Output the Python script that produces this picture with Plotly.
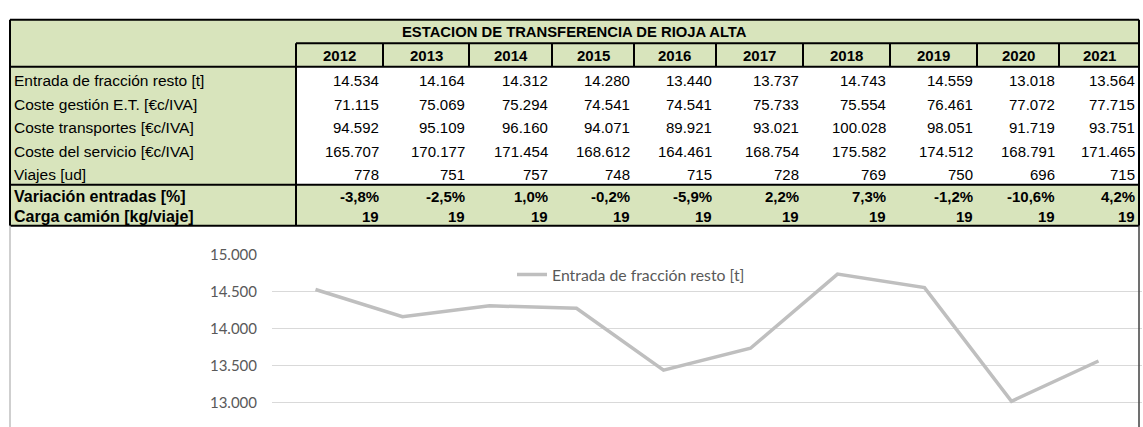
import plotly.graph_objects as go

# ---------------- data ----------------
years = ["2012", "2013", "2014", "2015", "2016", "2017", "2018", "2019", "2020", "2021"]
table_title = "ESTACION DE TRANSFERENCIA DE RIOJA ALTA"
row_labels = [
    "Entrada de fracción resto [t]",
    "Coste gestión E.T. [€c/IVA]",
    "Coste transportes [€c/IVA]",
    "Coste del servicio [€c/IVA]",
    "Viajes [ud]",
]
bold_labels = ["Variación entradas [%]", "Carga camión [kg/viaje]"]

entrada = [14534, 14164, 14312, 14280, 13440, 13737, 14743, 14559, 13018, 13564]
coste_gestion = [71115, 75069, 75294, 74541, 74541, 75733, 75554, 76461, 77072, 77715]
coste_transportes = [94592, 95109, 96160, 94071, 89921, 93021, 100028, 98051, 91719, 93751]
coste_servicio = [165707, 170177, 171454, 168612, 164461, 168754, 175582, 174512, 168791, 171465]
viajes = [778, 751, 757, 748, 715, 728, 769, 750, 696, 715]
variacion = [-3.8, -2.5, 1.0, -0.2, -5.9, 2.2, 7.3, -1.2, -10.6, 4.2]
carga = [19, 19, 19, 19, 19, 19, 19, 19, 19, 19]

y_ticks = [13000, 13500, 14000, 14500, 15000]

# ---------------- layout constants (pixels) ----------------
W, H = 1143, 427
col_edges = [10, 296, 383, 469, 552, 634, 716, 803, 890, 977, 1059, 1139]
row_edges = [10, 34, 58, 82.2, 106.4, 130.6, 154.8, 179, 200, 221]
GREEN = "#D8E4BC"
TABLE_FONT = "Liberation Sans, Arial, sans-serif"
CHART_FONT = "Lato, Calibri, sans-serif"
AXIS_GREY = "#595959"


def px(x):
    return x / W


def py(y):
    return 1 - y / H


def fmt_int(v):
    return f"{v:,}".replace(",", ".")


def fmt_pct(v):
    return f"{v:.1f}%".replace(".", ",")


shapes = []
annotations = []


def rect(x0, y0, x1, y1, fill):
    shapes.append(dict(type="rect", xref="paper", yref="paper",
                       x0=px(x0), x1=px(x1), y0=py(y1), y1=py(y0),
                       fillcolor=fill, line=dict(width=0), layer="below"))


def line(x0, y0, x1, y1, color="black", width=2):
    shapes.append(dict(type="line", xref="paper", yref="paper",
                       x0=px(x0), x1=px(x1), y0=py(y0), y1=py(y1),
                       line=dict(color=color, width=width), layer="above"))


def text(x, y, s, anchor, bold=False, size=15, font=TABLE_FONT, color="black"):
    annotations.append(dict(xref="paper", yref="paper", x=px(x), y=py(y),
                            text=f"<b>{s}</b>" if bold else s, showarrow=False,
                            xanchor=anchor, yanchor="middle",
                            font=dict(family=font, size=size, color=color)))


L, R = col_edges[0], col_edges[-1]
T, B = row_edges[0], row_edges[-1]

# fills
rect(L, T, R, B, GREEN)
rect(col_edges[1], row_edges[2], R, row_edges[7], "white")

# borders
line(L, T, R, T)
line(L, B, R, B)
line(L, T, L, B)
line(R, T, R, B)
line(col_edges[1], row_edges[1], R, row_edges[1])
line(L, row_edges[2], R, row_edges[2])
line(L, row_edges[7], R, row_edges[7])
line(col_edges[1], row_edges[1], col_edges[1], B)
for xe in col_edges[2:-1]:
    line(xe, row_edges[1], xe, row_edges[2])

# title
text((L + R) / 2, (row_edges[0] + row_edges[1]) / 2 + 1, table_title, "center", bold=True, size=14.8)
# years
for i, yr in enumerate(years):
    text((col_edges[i + 1] + col_edges[i + 2]) / 2, (row_edges[1] + row_edges[2]) / 2 + 1, yr, "center", bold=True)

# body rows
body = [entrada, coste_gestion, coste_transportes, coste_servicio, viajes]
for r, (lab, vals) in enumerate(zip(row_labels, body)):
    yc = (row_edges[r + 2] + row_edges[r + 3]) / 2 + 2
    text(L + 2, yc, lab, "left", size=15.5)
    for i, v in enumerate(vals):
        text(col_edges[i + 2] - 2, yc, fmt_int(v), "right")

bottom = [[fmt_pct(v) for v in variacion], [str(v) for v in carga]]
for r, (lab, vals) in enumerate(zip(bold_labels, bottom)):
    yc = (row_edges[r + 7] + row_edges[r + 8]) / 2 + 1
    text(L + 2, yc, lab, "left", bold=True, size=16)
    for i, v in enumerate(vals):
        text(col_edges[i + 2] - 2, yc, v, "right", bold=True)

# chart area borders
line(L, B, L, H, color="#BFBFBF", width=1.5)
line(R, B, R, H, color="#404040", width=1.5)

fig = go.Figure()
fig.add_trace(go.Scatter(
    x=years, y=entrada, mode="lines", name=row_labels[0],
    line=dict(color="#BFBFBF", width=3.5),
    hoverinfo="skip",
))

fig.update_layout(
    width=W, height=H,
    margin=dict(l=0, r=0, t=0, b=0),
    paper_bgcolor="white", plot_bgcolor="white",
    separators=",.",
    shapes=shapes, annotations=annotations,
    showlegend=True,
    legend=dict(orientation="h", x=px(512), xanchor="left", y=py(271), yanchor="middle",
                font=dict(family=CHART_FONT, size=15.8, color=AXIS_GREY),
                bgcolor="rgba(0,0,0,0)"),
    xaxis=dict(domain=[px(272), px(1142)], type="category", range=[-0.5, 9.5],
               showticklabels=False, showgrid=False, zeroline=False, showline=False, ticks=""),
    yaxis=dict(domain=[0, py(251)], range=[12669, 15000], tickvals=y_ticks,
               tickformat=",d", showgrid=True, gridcolor="#D9D9D9", gridwidth=1.2,
               zeroline=False, showline=False, ticks="", ticklabelstandoff=14,
               tickfont=dict(family=CHART_FONT, size=15, color=AXIS_GREY)),
)

fig.write_html(
    "out.html",
    config={"displayModeBar": False},
    post_script=(
        "document.body.style.margin='0';document.body.style.overflow='hidden';"
        "var g=document.getElementById('{plot_id}');"
        "g.style.position='fixed';g.style.top='0px';g.style.left='0px';"
    ),
)
